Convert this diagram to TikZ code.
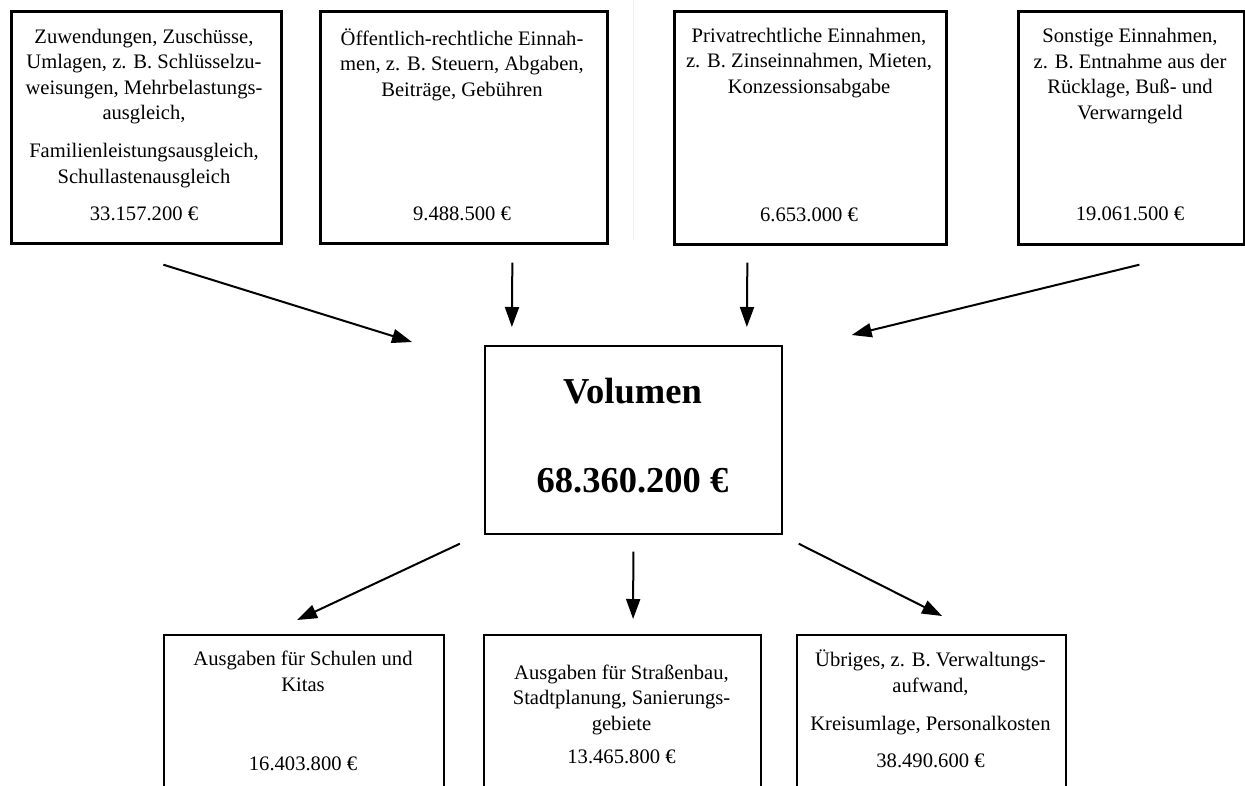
\documentclass[tikz,border=0pt]{standalone}
\usepackage{fontspec}
\setmainfont{Liberation Serif}
\usepackage{tikz}
\usetikzlibrary{arrows.meta}
\usetikzlibrary{calc,positioning}

\tikzset{
    kasten/.style={draw, inner sep=0pt, anchor=north west},
    zeilen/.style={align=center, inner sep=0pt, anchor=base, font=\fontsize{20.6}{25.5}\selectfont},
    summe/.style={align=center, inner sep=0pt, anchor=base, font=\fontsize{36.5}{44}\selectfont\bfseries},
    pfeil/.style={line width=2pt, -{Triangle[length=20pt,width=14pt]}},
}

\begin{document}
\begin{tikzpicture}[x=1pt,y=-1pt]

    \path[use as bounding box, clip] (0,0) rectangle (1245,785);

    % Falz
    \draw[gray!12, line width=1pt] (633,0) -- (633,240);

    % Einnahmen (Textknoten sitzen auf der letzten Zeile)
    \node[kasten, line width=2.7pt, minimum width=270pt, minimum height=232pt] (ein1) at (10,10) {};
    \node[kasten, line width=2.7pt, minimum width=287pt, minimum height=232pt] (ein2) at (319,10) {};
    \node[kasten, line width=2.7pt, minimum width=272pt, minimum height=233pt] (ein3) at (673,10) {};
    \node[kasten, line width=2.7pt, minimum width=226pt, minimum height=233pt] (ein4) at (1017,10) {};

    \node[zeilen] (ein1txt) at (144,183) {Zuwendungen, Zuschüsse,\\Umlagen, z. B. Schlüsselzu-\\weisungen, Mehrbelastungs-\\ausgleich,\\[12.5pt]Familienleistungsausgleich,\\Schullastenausgleich};
    \node[zeilen] (ein1wert) at (144,220) {33.157.200 €};
    \node[zeilen] (ein2txt) at (462,96) {Öffentlich-rechtliche Einnah-\\men, z. B. Steuern, Abgaben,\\Beiträge, Gebühren};
    \node[zeilen] (ein2wert) at (462,220) {9.488.500 €};
    \node[zeilen] (ein3txt) at (809,93) {Privatrechtliche Einnahmen,\\z. B. Zinseinnahmen, Mieten,\\Konzessionsabgabe};
    \node[zeilen] (ein3wert) at (809,221) {6.653.000 €};
    \node[zeilen] (ein4txt) at (1130,119) {Sonstige Einnahmen,\\z. B. Entnahme aus der\\Rücklage, Buß- und\\Verwarngeld};
    \node[zeilen] (ein4wert) at (1130,220) {19.061.500 €};

    % Volumen
    \node[kasten, line width=1.7pt, minimum width=297pt, minimum height=188pt] (vol) at (484,345) {};
    \node[summe] (voltxt) at (632.5,403) {Volumen};
    \node[summe] (volwert) at (632.5,492) {68.360.200 €};

    % Ausgaben
    \node[kasten, line width=2.2pt, minimum width=280pt, minimum height=180pt] (aus1) at (163,634) {};
    \node[kasten, line width=2.2pt, minimum width=277pt, minimum height=180pt] (aus2) at (483,634) {};
    \node[kasten, line width=2.2pt, minimum width=269pt, minimum height=180pt] (aus3) at (796,634) {};

    \node[zeilen] (aus1txt) at (303,691) {Ausgaben für Schulen und\\Kitas};
    \node[zeilen] (aus1wert) at (303,770) {16.403.800 €};
    \node[zeilen] (aus2txt) at (621.5,730) {Ausgaben für Straßenbau,\\Stadtplanung, Sanierungs-\\gebiete};
    \node[zeilen] (aus2wert) at (621.5,763) {13.465.800 €};
    \node[zeilen] (aus3txt) at (930.5,730) {Übriges, z. B. Verwaltungs-\\aufwand,\\[12.5pt]Kreisumlage, Personalkosten};
    \node[zeilen] (aus3wert) at (930.5,767) {38.490.600 €};

    % Pfeile rein
    \draw[pfeil] ([xshift=17pt,yshift=-20pt]ein1.south) -- ([xshift=-72pt,yshift=3pt]vol.north west);
    \draw[pfeil] ([xshift=48.5pt,yshift=-18pt]ein2.south) -- ([xshift=-121.5pt,yshift=18pt]vol.north);
    \draw[pfeil] ([xshift=-63pt,yshift=-17pt]ein3.south) -- ([xshift=113.5pt,yshift=18pt]vol.north);
    \draw[pfeil] ([xshift=8pt,yshift=-19pt]ein4.south) -- ([xshift=69pt,yshift=10pt]vol.north east);

    % Pfeile raus
    \draw[pfeil] ([xshift=-173.5pt,yshift=-9pt]vol.south) -- ([xshift=-7pt,yshift=14pt]aus1.north);
    \draw[pfeil] ([yshift=-17pt]vol.south) -- ([xshift=10.5pt,yshift=15pt]aus2.north);
    \draw[pfeil] ([xshift=16pt,yshift=-9pt]vol.south east) -- ([xshift=10.5pt,yshift=18pt]aus3.north);

\end{tikzpicture}
\end{document}
